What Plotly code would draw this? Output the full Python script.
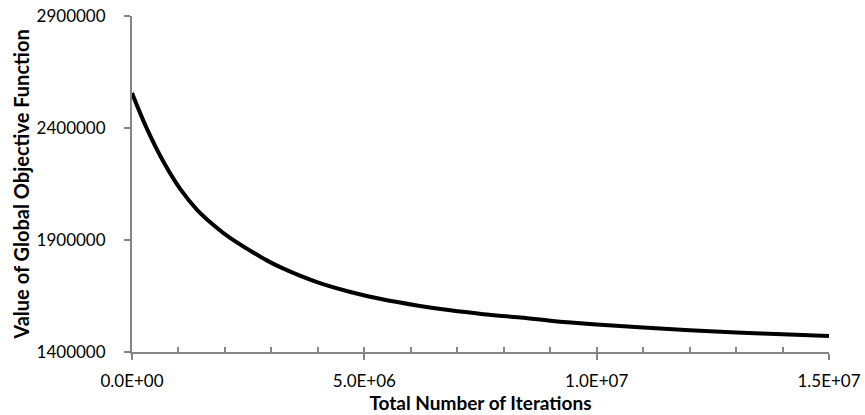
import plotly.graph_objects as go

iterations = [0, 0.32e6, 0.68e6, 1.04e6, 1.40e6, 1.76e6, 2.11e6, 2.5e6, 2.9e6, 3.26e6,
              3.98e6, 4.70e6, 5.41e6, 6.13e6, 6.85e6, 7.56e6, 8.3e6, 9.0e6,
              10.0e6, 11.0e6, 12.0e6, 13.0e6, 14.0e6, 15.0e6]
objective = [2556000, 2397000, 2248000, 2127000, 2035000, 1966000, 1909000, 1858000, 1809000, 1772000,
             1712000, 1668000, 1634000, 1608000, 1586000, 1569000, 1555000, 1540000,
             1523000, 1509000, 1497000, 1487000, 1479000, 1471000]

x_tick_vals = [0, 5e6, 1e7, 1.5e7]
x_tick_text = ["0.0E+00", "5.0E+06", "1.0E+07", "1.5E+07"]
y_tick_vals = [1400000, 1900000, 2400000, 2900000]
y_tick_text = ["1400000", "1900000", "2400000", "2900000"]

x_title = "Total Number of Iterations"
y_title = "Value of Global Objective Function"

FONT = "Lato"
AXIS_COLOR = "#868686"

fig = go.Figure()
fig.add_trace(go.Scatter(
    x=iterations, y=objective, mode="lines",
    line=dict(color="black", width=4, shape="spline", smoothing=1.0),
    showlegend=False, hoverinfo="x+y",
))
# helper empty trace so the overlay axis (inside ticks) is rendered
fig.add_trace(go.Scatter(x=[], y=[], xaxis="x2", yaxis="y", showlegend=False))

fig.update_layout(
    width=865, height=415,
    margin=dict(l=132, r=36, t=16, b=63),
    paper_bgcolor="white", plot_bgcolor="white",
    font=dict(family=FONT, size=17, color="black"),
    xaxis=dict(
        range=[0, 1.5e7], tickmode="array", tickvals=x_tick_vals, ticktext=x_tick_text,
        ticks="outside", ticklen=6, tickwidth=2, tickcolor=AXIS_COLOR,
        showline=True, linecolor=AXIS_COLOR, linewidth=2,
        showgrid=False, zeroline=False, automargin=False,
        ticklabelstandoff=7,
        tickfont=dict(family=FONT, size=17, color="black"),
        title=dict(text="<b>" + x_title + "</b>", font=dict(family=FONT, size=19, color="black"), standoff=6),
    ),
    xaxis2=dict(
        range=[0, 1.5e7], overlaying="x", anchor="y", side="bottom",
        tickmode="linear", tick0=0, dtick=1e6,
        ticks="inside", ticklen=5, tickwidth=2, tickcolor=AXIS_COLOR,
        showticklabels=False, showline=False, showgrid=False, zeroline=False,
        automargin=False,
    ),
    yaxis=dict(
        range=[1400000, 2900000], tickmode="array", tickvals=y_tick_vals, ticktext=y_tick_text,
        ticks="outside", ticklen=6, tickwidth=2, tickcolor=AXIS_COLOR,
        showline=True, linecolor=AXIS_COLOR, linewidth=2,
        showgrid=False, zeroline=False, automargin=False,
        ticklabelstandoff=15,
        tickfont=dict(family=FONT, size=17, color="black"),
        title=dict(text="<b>" + y_title + "</b>", font=dict(family=FONT, size=20, color="black"), standoff=2),
    ),
)

fig.write_html("out.html", config={"displayModeBar": False},
               post_script="document.body.style.margin='0';")
